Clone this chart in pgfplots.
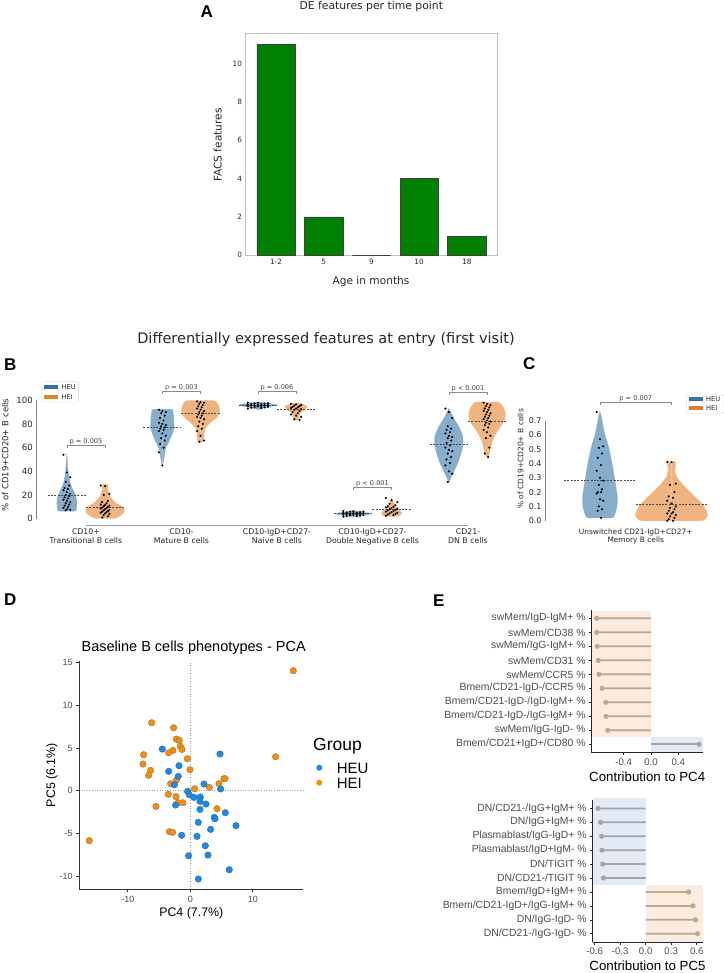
\documentclass[border=0pt]{standalone}
\usepackage{fontspec}
\setmainfont{DejaVu Sans}
\newfontfamily\arial{Liberation Sans}
\usepackage{pgfplots}
\usepackage{pgfplotstable}
\pgfplotsset{compat=1.18}
\definecolor{barg}{HTML}{008000}
\definecolor{vb}{HTML}{86ADCB}
\definecolor{vo}{HTML}{EFB47F}
\definecolor{lb}{HTML}{3274A1}
\definecolor{lo}{HTML}{E1812C}
\definecolor{pb}{HTML}{1E88E5}
\definecolor{po}{HTML}{FB8C00}
\definecolor{shO}{HTML}{FCEBDF}
\definecolor{shB}{HTML}{E3EAF5}
\definecolor{lolT}{HTML}{B9A98F}
\definecolor{lolG}{HTML}{A0A4A4}
\definecolor{txg}{HTML}{4D4D4D}
\definecolor{tkd}{HTML}{262626}

% violin half-profiles: d = half width (category units), v = value
\pgfplotstableread{
d v
0 6.5
0.09 6.5
0.10 9
0.105 14
0.09 20
0.06 25
0.035 30
0.018 37
0.008 45
0 54.6
}\vHEUa
\pgfplotstableread{
d v
0 0.3
0.10 0.3
0.15 2
0.195 5
0.2 8
0.17 10.5
0.12 13
0.065 17
0.035 22
0.028 27
0.025 29
0 29
}\vHEIa
\pgfplotstableread{
d v
0 44.8
0.017 51
0.035 59
0.085 68
0.12 76
0.12 85
0.11 90
0.1 92.3
0 92.3
}\vHEUb
\pgfplotstableread{
d v
0 65
0.028 65
0.035 69
0.042 75
0.087 80
0.175 86
0.2 92
0.18 97
0.14 99.7
0 99.7
}\vHEIb
\pgfplotstableread{
d v
0 92.2
0.05 93.2
0.12 94.5
0.2 95.9
0.12 97.4
0.04 98.3
0 98.6
}\vHEUc
\pgfplotstableread{
d v
0 83.2
0.017 83.2
0.03 86
0.042 89
0.09 92
0.115 94.5
0.08 96.5
0.04 97.5
0 97.5
}\vHEIc
\pgfplotstableread{
d v
0 1.2
0.05 2
0.12 3
0.19 4.2
0.1 5.5
0.03 6.5
0 7
}\vHEUd
\pgfplotstableread{
d v
0 2
0.06 2
0.1 3.5
0.105 5
0.08 7
0.042 10
0.017 14
0 18
}\vHEId
\pgfplotstableread{
d v
0 30.7
0.052 40
0.098 48
0.14 59
0.147 69
0.105 77.6
0.052 84.7
0 93.2
}\vHEUe
\pgfplotstableread{
d v
0 52.4
0.014 52.4
0.028 56.6
0.052 65
0.105 73.6
0.175 82
0.192 87.6
0.175 93
0.122 98.3
0 98.3
}\vHEIe
\pgfplotstableread{
d v
0 0.021
0.071 0.021
0.084 0.05
0.095 0.1
0.097 0.168
0.089 0.238
0.08 0.308
0.071 0.378
0.06 0.448
0.048 0.517
0.037 0.564
0.026 0.61
0.015 0.68
0.008 0.727
0 0.762
}\vHEUf
\pgfplotstableread{
d v
0 0
0.16 0
0.195 0.02
0.2 0.05
0.19 0.08
0.168 0.121
0.13 0.168
0.093 0.214
0.056 0.261
0.028 0.308
0.019 0.354
0.022 0.412
0 0.412
}\vHEIf

\pgfplotsset{
  vio/.style={fill=#1, draw=#1, line width=0.3pt, smooth, tension=0.5},
  swarm/.style={only marks, mark=*, mark size=0.85pt, black},
  med/.style={black!70, dash pattern=on 2pt off 1.3pt, line width=0.55pt},
  lolli/.style={xbar, bar width=0.125, fill=#1, draw=none, bar shift=0pt},
}
\newcommand{\violin}[3]{%
  \addplot[vio=#3] table[x expr={#1+\thisrow{d}}, y=v] #2;
  \addplot[vio=#3] table[x expr={#1-\thisrow{d}}, y=v] #2;}
\newcommand{\pbr}[3]{% center, line y, tip length
  \draw[black!45, line width=0.5pt] (axis cs:#1-0.2,#2-#3) -- (axis cs:#1-0.2,#2) -- (axis cs:#1+0.2,#2) -- (axis cs:#1+0.2,#2-#3);}

\begin{document}
\begin{tikzpicture}
\path[use as bounding box] (0pt,0pt) rectangle (723pt,-973pt);

%================ A =================
\node[font=\arial\bfseries\fontsize{17}{17}\selectfont] at (206.7pt,-12pt) {A};
\node[anchor=base, font=\fontsize{10.8}{12}\selectfont, text=tkd] at (371.3pt,-10pt) {DE features per time point};
\begin{axis}[at={(245.5pt,-255.3pt)}, anchor=south west, x=47.7pt, y=19.18pt,
  xmin=-0.64, xmax=4.64, ymin=0, ymax=11.58, ybar, bar width=0.8,
  xtick={0,1,2,3,4}, xticklabels={1-2,5,9,10,18},
  ytick={0,2,4,6,8,10}, yticklabels={0,2,4,6,8,10},
  major tick length=0pt, axis line style={draw=black!25, line width=0.8pt},
  tick label style={font=\fontsize{7.3}{8}\selectfont, text=tkd}, clip=false]
\addplot[fill=barg, draw=black!75, line width=0.6pt] coordinates {(0,11) (1,2) (2,0) (3,4) (4,1)};
\end{axis}
\node[anchor=base, font=\fontsize{10.6}{12}\selectfont, text=tkd] at (371pt,-284pt) {Age in months};
\node[anchor=base, rotate=90, font=\fontsize{10.6}{12}\selectfont, text=tkd] at (221.7pt,-145pt) {FACS features};

%================ B =================
\node[anchor=base, font=\fontsize{14.5}{16}\selectfont, text=tkd] at (326pt,-343.3pt) {Differentially expressed features at entry (first visit)};
\node[font=\arial\bfseries\fontsize{17}{17}\selectfont] at (10.3pt,-364.5pt) {B};
\node[font=\arial\bfseries\fontsize{17}{17}\selectfont] at (529.3pt,-364pt) {C};
\begin{axis}[at={(36.3pt,-525.3pt)}, anchor=south west, x=95.5pt, y=1.184pt,
  xmin=-0.52, xmax=4.55, ymin=-5.6, ymax=118,
  axis lines=left, axis line style={draw=none},
  xtick={0,1,2,3,4},
  xticklabels={{CD10+\\Transitional B cells},{CD10-\\Mature B cells},{CD10-IgD+CD27-\\Naive B cells},{CD10-IgD+CD27-\\Double Negative B cells},{CD21-\\DN B cells}},
  xticklabel style={align=center, font=\fontsize{7.8}{8.6}\selectfont, text=tkd},
  ytick={0,20,40,60,80,100}, yticklabels={0,20,40,60,80,100},
  yticklabel style={font=\fontsize{8.6}{9}\selectfont, text=tkd},
  major tick length=0pt, clip=false]
\draw[black!50, line width=0.6pt] (axis cs:-0.52,0) -- (axis cs:-0.52,100);
\draw[black!40, line width=0.6pt] (axis cs:0,-5.6) -- (axis cs:4,-5.6);
\violin{-0.2}{\vHEUa}{vb}
\violin{0.2}{\vHEIa}{vo}
\violin{0.8}{\vHEUb}{vb}
\violin{1.2}{\vHEIb}{vo}
\violin{1.8}{\vHEUc}{vb}
\violin{2.2}{\vHEIc}{vo}
\violin{2.8}{\vHEUd}{vb}
\violin{3.2}{\vHEId}{vo}
\violin{3.8}{\vHEUe}{vb}
\violin{4.2}{\vHEIe}{vo}
% medians
\addplot[med] coordinates {(-0.4,20) (0,20)};
\addplot[med] coordinates {(0,9.6) (0.4,9.6)};
\addplot[med] coordinates {(0.6,77.1) (1,77.1)};
\addplot[med] coordinates {(1,89) (1.4,89)};
\addplot[med] coordinates {(1.6,96) (2,96)};
\addplot[med] coordinates {(2,92.3) (2.4,92.3)};
\addplot[med] coordinates {(2.6,4.5) (3,4.5)};
\addplot[med] coordinates {(3,8.2) (3.4,8.2)};
\addplot[med] coordinates {(3.6,63) (4,63)};
\addplot[med] coordinates {(4,82.5) (4.4,82.5)};
% swarms
\addplot[swarm] table[x expr={-0.2+0.012*(mod(\coordindex*3,7)-3)}, y=v] {
v
54
39
35
31
28
26
25
24
22.5
21
20
19
18
17
16
15
14
13
12
11
10
9
8
7.5
7
};
\addplot[swarm] table[x expr={0.2+0.015*(mod(\coordindex*3,7)-3)}, y=v] {
v
28
27.5
21
20
15
14
13
12
11.5
11
10.5
10
9.5
9
8.5
8
7.5
7
6.5
6
5.5
5
4.5
4
3
2
1
};
\addplot[swarm] table[x expr={0.8+0.012*(mod(\coordindex*3,7)-3)}, y=v] {
v
92
91
90
89
87
85
83
81
80
79
78
77
76
75
74
72
70
68
66
63
60
56
45
};
\addplot[swarm] table[x expr={1.2+0.012*(mod(\coordindex*3,7)-3)}, y=v] {
v
99
98.5
98
97
96
95
94
93
92
91
90
89
88
87
86
85
84
82
80
78
76
74
70
66
65
};
\addplot[swarm] table[x expr={1.8+0.035*(mod(\coordindex*3,7)-3)}, y=v] {
v
98
97.8
97.5
97.3
97
96.8
96.6
96.4
96.2
96
95.8
95.6
95.4
95.2
95
94.8
94.5
94.2
94
93.7
93.4
93
};
\addplot[swarm] table[x expr={2.2+0.018*(mod(\coordindex*3,7)-3)}, y=v] {
v
97
96.5
96
95.5
95
94.5
94
93.5
93
92.5
92
91
90
89
88
87
86
84
83.5
};
\addplot[swarm] table[x expr={2.8+0.035*(mod(\coordindex*3,7)-3)}, y=v] {
v
6.5
6.2
6
5.8
5.5
5.3
5
4.8
4.6
4.4
4.2
4
3.8
3.6
3.4
3.2
3
2.8
2.5
2.2
2
1.7
};
\addplot[swarm] table[x expr={3.2+0.02*(mod(\coordindex*3,7)-3)}, y=v] {
v
17.5
15.5
14
12.5
11.5
10.5
10
9.5
9
8.5
8
7.5
7
6.5
6
5.5
5
4.5
4
3.5
3
2.5
};
\addplot[swarm] table[x expr={3.8+0.012*(mod(\coordindex*3,7)-3)}, y=v] {
v
93
90
85
78
76
75
73
72
70
69
68
66
64
62
60
58
57
55
52
50
47
45
40
38
31
};
\addplot[swarm] table[x expr={4.2+0.012*(mod(\coordindex*3,7)-3)}, y=v] {
v
98
97
96
95
94
93
92
91
90
89
88
87
86
85
84
83
82
81
80
79
77
75
73
70
68
60
55
52
};
% p-values
\pbr{0}{62.2}{2.2}
\pbr{1}{107.8}{2.2}
\pbr{2}{107.2}{2.2}
\pbr{3}{26.2}{2.2}
\pbr{4}{106.5}{2.2}
\node[anchor=base, font=\fontsize{6.6}{7}\selectfont, text=black!75, inner sep=0pt] at (axis cs:0,63.8) {p = 0.005};
\node[anchor=base, font=\fontsize{6.6}{7}\selectfont, text=black!75, inner sep=0pt] at (axis cs:1,109.4) {p = 0.003};
\node[anchor=base, font=\fontsize{6.6}{7}\selectfont, text=black!75, inner sep=0pt] at (axis cs:2,108.8) {p = 0.006};
\node[anchor=base, font=\fontsize{6.6}{7}\selectfont, text=black!75, inner sep=0pt] at (axis cs:3,27.8) {p < 0.001};
\node[anchor=base, font=\fontsize{6.6}{7}\selectfont, text=black!75, inner sep=0pt] at (axis cs:4,108.1) {p < 0.001};
\end{axis}
\node[anchor=base, rotate=90, font=\fontsize{8.5}{9}\selectfont, text=tkd] at (8.3pt,-455pt) {\% of CD19+CD20+ B cells};
% legend B
\draw[black!20, fill=white, rounded corners=1.5pt, line width=0.4pt] (41.7pt,-381.7pt) rectangle (78.3pt,-402pt);
\fill[lb] (44.3pt,-385pt) rectangle (57.5pt,-389pt);
\fill[lo] (44.3pt,-394.5pt) rectangle (57.5pt,-398.5pt);
\node[anchor=west, inner sep=0pt, font=\fontsize{6.6}{7}\selectfont, text=tkd] at (61.5pt,-387pt) {HEU};
\node[anchor=west, inner sep=0pt, font=\fontsize{6.6}{7}\selectfont, text=tkd] at (61.5pt,-396.6pt) {HEI};

%================ C =================
\begin{axis}[at={(545pt,-525pt)}, anchor=south west, x=179pt, y=143pt,
  xmin=-0.507, xmax=0.5, ymin=-0.03, ymax=0.92,
  axis lines=left, axis line style={draw=none},
  xtick={0}, xticklabels={{Unswitched CD21-IgD+CD27+\\Memory B cells}},
  xticklabel style={align=center, font=\fontsize{7.4}{8.6}\selectfont, text=tkd},
  ytick={0,0.1,0.2,0.3,0.4,0.5,0.6,0.7}, yticklabels={0.0,0.1,0.2,0.3,0.4,0.5,0.6,0.7},
  yticklabel style={font=\fontsize{8}{9}\selectfont, text=tkd},
  major tick length=0pt, clip=false]
\draw[black!50, line width=0.6pt] (axis cs:-0.507,0) -- (axis cs:-0.507,0.7);
\violin{-0.2}{\vHEUf}{vb}
\violin{0.2}{\vHEIf}{vo}
\addplot[med] coordinates {(-0.4,0.284) (0,0.284)};
\addplot[med] coordinates {(0,0.114) (0.4,0.114)};
\addplot[swarm] table[x expr={-0.2+0.006*(mod(\coordindex*3,7)-3)}, y=v] {
v
0.76
0.57
0.52
0.51
0.47
0.44
0.39
0.35
0.3
0.28
0.25
0.22
0.2
0.2
0.19
0.15
0.14
0.1
0.08
0.07
0.02
};
\addplot[swarm] table[x expr={0.2+0.008*(mod(\coordindex*3,7)-3)}, y=v] {
v
0.41
0.41
0.26
0.25
0.2
0.17
0.16
0.14
0.12
0.1
0.09
0.08
0.07
0.06
0.05
0.05
0.04
0.03
0.02
0.01
0.0
0.0
};
\pbr{0}{0.828}{0.018}
\node[anchor=base, font=\fontsize{6.6}{7}\selectfont, text=black!75, inner sep=0pt] at (axis cs:0,0.841) {p = 0.007};
\end{axis}
\node[anchor=base, rotate=90, font=\fontsize{7.5}{9}\selectfont, text=tkd] at (523.3pt,-458.8pt) {\% of CD19+CD20+ B cells};
\draw[black!20, fill=white, rounded corners=1.5pt, line width=0.4pt] (686.7pt,-394pt) rectangle (724pt,-414pt);
\fill[lb] (689.3pt,-397pt) rectangle (703pt,-401pt);
\fill[lo] (689.3pt,-406pt) rectangle (703pt,-410pt);
\node[anchor=west, inner sep=0pt, font=\fontsize{6.6}{7}\selectfont, text=tkd] at (706pt,-399pt) {HEU};
\node[anchor=west, inner sep=0pt, font=\fontsize{6.6}{7}\selectfont, text=tkd] at (706pt,-408.3pt) {HEI};

%================ D =================
\node[font=\arial\bfseries\fontsize{17}{17}\selectfont] at (10.3pt,-599.2pt) {D};
\node[anchor=base, font=\arial\fontsize{14.5}{16}\selectfont] at (193.7pt,-651.7pt) {Baseline B cells phenotypes - PCA};
\begin{axis}[at={(79.05pt,-889.3pt)}, anchor=south west, x=6.25pt, y=8.53pt,
  xmin=-17.8, xmax=17.98, ymin=-11.56, ymax=15.24,
  axis lines=left, axis line style={-, black!80, line width=0.9pt},
  tick align=outside, major tick length=3pt, tick style={black!80, line width=0.7pt},
  xtick={-10,0,10}, xticklabels={-10,0,10},
  ytick={-10,-5,0,5,10,15}, yticklabels={-10,-5,0,5,10,15},
  tick label style={font=\arial\fontsize{9}{10}\selectfont, text=txg}, clip=false, axis on top]
\addplot[black!40, dotted, line width=0.6pt] coordinates {(0,-11.56) (0,15.24)};
\addplot[black!40, dotted, line width=0.6pt] coordinates {(-17.8,0) (17.98,0)};
\addplot[only marks, mark=*, mark size=3.3pt, mark options={fill=po, draw=black!55, line width=0.3pt}] table {
x y
16.48 14.06
-6.19 7.97
-2.67 7.38
-2.24 6.05
-1.76 5.9
-1.6 5.2
-1.33 4.84
-2.77 4.73
-3.47 4.45
-7.47 4.22
-0.48 3.75
13.65 3.98
-7.57 3.13
-6.35 2.38
-0.05 2.46
-6.67 1.8
-2.24 1.21
5.39 1.41
5.55 1.41
-3.15 0.82
4.59 0.82
0.69 0.23
3.04 0.39
-3.52 -0.43
-2.29 -0.7
-1.92 -1.41
-1.17 -1.41
-5.49 -1.84
4.27 -2.11
-3.36 -4.8
-2.83 -4.88
-16.16 -5.86
};
\addplot[only marks, mark=*, mark size=3.3pt, mark options={fill=pb, draw=pb!75!black, line width=0.3pt}] table {
x y
-4.48 4.88
4.75 4.3
-1.81 2.93
-3.47 2.27
-1.92 1.68
-2.56 0.7
2.19 0.78
4.85 0.2
-0.43 -0.08
-0.16 -0.47
0.59 -0.78
1.6 -0.74
1.55 -1.25
2.51 -1.56
-2.35 -1.68
1.55 -2.19
5.6 -2.58
3.84 -3.13
3.95 -3.28
7.31 -4.1
3.25 -4.53
1.28 -3.71
-1.39 -5.23
1.07 -5.35
2.4 -6.45
2.83 -7.54
-0.27 -7.62
6.24 -9.26
1.28 -10.35
};
\end{axis}
\node[anchor=base, font=\arial\fontsize{12.4}{14}\selectfont] at (191.3pt,-916pt) {PC4 (7.7\%)};
\node[anchor=base, rotate=90, font=\arial\fontsize{12.4}{14}\selectfont] at (55pt,-775pt) {PC5 (6.1\%)};
\node[anchor=base west, inner sep=0pt, font=\arial\fontsize{17.5}{19}\selectfont] at (313pt,-750pt) {Group};
\fill[pb] (319.3pt,-767.7pt) circle (3pt);
\fill[po] (319.3pt,-782.7pt) circle (3pt);
\node[anchor=base west, inner sep=0pt, font=\arial\fontsize{15}{17}\selectfont] at (336.7pt,-773.3pt) {HEU};
\node[anchor=base west, inner sep=0pt, font=\arial\fontsize{15}{17}\selectfont] at (336.7pt,-788.3pt) {HEI};

%================ E =================
\node[font=\arial\bfseries\fontsize{17}{17}\selectfont] at (438.7pt,-601pt) {E};
\begin{axis}[at={(591.6pt,-752.7pt)}, anchor=south west, x=68.3pt, y=14pt,
  xmin=-0.87, xmax=0.766, ymin=0.4, ymax=10.6,
  axis lines=left, axis line style={-, black!85, line width=0.8pt},
  tick align=outside, major tick length=2.5pt, tick style={black!85, line width=0.6pt},
  xtick={-0.4,0,0.4}, xticklabels={-0.4,0.0,0.4},
  ytick={1,2,3,4,5,6,7,8,9,10},
  yticklabels={{Bmem/CD21+IgD+/CD80 \%},{swMem/IgG-IgD- \%},{Bmem/CD21-IgD-/IgG-IgM+ \%},{Bmem/CD21-IgD-/IgD-IgM+ \%},{Bmem/CD21-IgD-/CCR5 \%},{swMem/CCR5 \%},{swMem/CD31 \%},{swMem/IgG-IgM+ \%},{swMem/CD38 \%},{swMem/IgD-IgM+ \%}},
  yticklabel style={font=\arial\fontsize{10.4}{11}\selectfont, text=txg},
  xticklabel style={font=\arial\fontsize{9.6}{10}\selectfont, text=txg},
  clip=false, axis on top]
\addplot[fill=shO, draw=none] coordinates {(-0.866,1.5) (0,1.5) (0,10.5) (-0.866,10.5)};
\addplot[fill=shB, draw=none] coordinates {(0,0.4) (0.766,0.4) (0.766,1.5) (0,1.5)};
\addplot[lolli=lolT] table {
x y
-0.634 2
-0.659 3
-0.663 4
-0.717 5
-0.762 6
-0.772 7
-0.787 8
-0.796 9
-0.796 10
};
\addplot[only marks, mark=*, mark size=2.3pt, lolT] table {
x y
-0.634 2
-0.659 3
-0.663 4
-0.717 5
-0.762 6
-0.772 7
-0.787 8
-0.796 9
-0.796 10
};
\addplot[lolli=lolG] coordinates {(0.703,1)};
\addplot[only marks, mark=*, mark size=2.3pt, lolG] coordinates {(0.703,1)};
\end{axis}
\node[anchor=base, font=\arial\fontsize{13.3}{15}\selectfont] at (647.2pt,-781.7pt) {Contribution to PC4};

\begin{axis}[at={(592.7pt,-942.1pt)}, anchor=south west, x=85pt, y=13.93pt,
  xmin=-0.623, xmax=0.67, ymin=0.4, ymax=10.6,
  axis lines=left, axis line style={-, black!85, line width=0.8pt},
  tick align=outside, major tick length=2.5pt, tick style={black!85, line width=0.6pt},
  xtick={-0.6,-0.3,0,0.3,0.6}, xticklabels={-0.6,-0.3,0.0,0.3,0.6},
  ytick={1,2,3,4,5,6,7,8,9,10},
  yticklabels={{DN/CD21-/IgG-IgD- \%},{DN/IgG-IgD- \%},{Bmem/CD21-IgD+/IgG-IgM+ \%},{Bmem/IgD+IgM+ \%},{DN/CD21-/TIGIT \%},{DN/TIGIT \%},{Plasmablast/IgD+IgM- \%},{Plasmablast/IgG-IgD+ \%},{DN/IgG+IgM+ \%},{DN/CD21-/IgG+IgM+ \%}},
  yticklabel style={font=\arial\fontsize{10.4}{11}\selectfont, text=txg},
  xticklabel style={font=\arial\fontsize{9.6}{10}\selectfont, text=txg},
  clip=false, axis on top]
\addplot[fill=shB, draw=none] coordinates {(-0.62,4.5) (0,4.5) (0,10.72) (-0.62,10.72)};
\addplot[fill=shO, draw=none] coordinates {(0,0.4) (0.67,0.4) (0.67,4.5) (0,4.5)};
\addplot[lolli=lolG] table {
x y
-0.498 5
-0.506 6
-0.514 7
-0.518 8
-0.53 9
-0.561 10
};
\addplot[only marks, mark=*, mark size=2.3pt, lolG] table {
x y
-0.498 5
-0.506 6
-0.514 7
-0.518 8
-0.53 9
-0.561 10
};
\addplot[lolli=lolT] table {
x y
0.61 1
0.588 2
0.556 3
0.505 4
};
\addplot[only marks, mark=*, mark size=2.3pt, lolT] table {
x y
0.61 1
0.588 2
0.556 3
0.505 4
};
\end{axis}
\node[anchor=base, font=\arial\fontsize{13.3}{15}\selectfont] at (647.5pt,-970pt) {Contribution to PC5};
\end{tikzpicture}
\end{document}
